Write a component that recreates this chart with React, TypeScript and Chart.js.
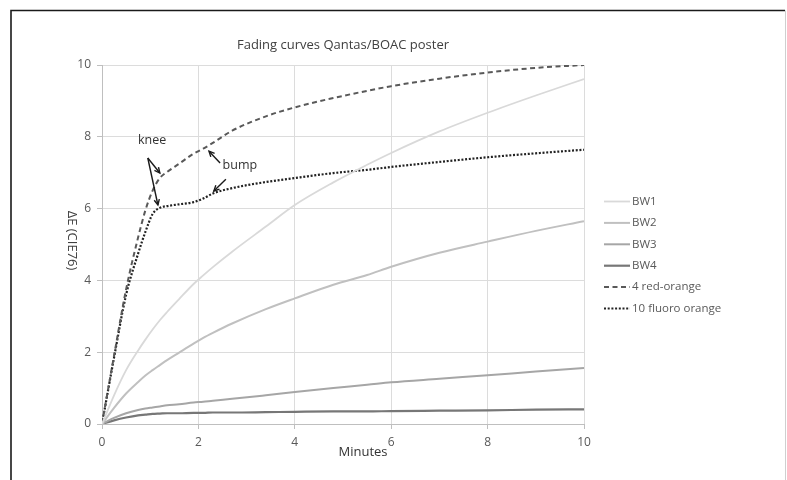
import React, { useEffect, useRef } from "react";
import { Chart, registerables } from "chart.js";

Chart.register(...registerables);

// ---- Data ----
const minutes = [0, 0.25, 0.5, 0.75, 0.9, 1.05, 1.2, 1.35, 1.6, 1.9, 2.1, 2.3, 2.7, 3.4, 4, 4.8, 5.5, 6, 7, 8, 9, 10];

const bw1 = [0, 0.8, 1.5, 2.05, 2.35, 2.63, 2.89, 3.12, 3.48, 3.9, 4.14, 4.37, 4.8, 5.5, 6.1, 6.73, 7.22, 7.55, 8.15, 8.67, 9.15, 9.61];
const bw2 = [0, 0.45, 0.85, 1.17, 1.35, 1.5, 1.64, 1.78, 1.99, 2.24, 2.4, 2.54, 2.8, 3.2, 3.5, 3.88, 4.15, 4.38, 4.77, 5.08, 5.38, 5.65];
const bw3 = [0, 0.17, 0.3, 0.39, 0.43, 0.46, 0.49, 0.52, 0.55, 0.6, 0.62, 0.65, 0.7, 0.8, 0.89, 1.0, 1.09, 1.16, 1.26, 1.36, 1.46, 1.56];
const bw4 = [0, 0.1, 0.18, 0.24, 0.26, 0.28, 0.29, 0.3, 0.3, 0.31, 0.31, 0.32, 0.32, 0.33, 0.34, 0.35, 0.35, 0.36, 0.37, 0.38, 0.4, 0.41];
const redOrange = [0, 1.9, 3.75, 5.2, 5.95, 6.5, 6.85, 7.02, 7.25, 7.53, 7.67, 7.83, 8.17, 8.57, 8.82, 9.08, 9.28, 9.41, 9.62, 9.79, 9.92, 10.0];
const fluoroOrange = [0, 1.85, 3.6, 4.75, 5.35, 5.85, 6.02, 6.07, 6.12, 6.18, 6.28, 6.42, 6.57, 6.74, 6.85, 6.99, 7.08, 7.16, 7.3, 7.43, 7.54, 7.64];

const seriesNames = ["BW1", "BW2", "BW3", "BW4", "4 red-orange", "10 fluoro orange"];

const axisMin = 0;
const axisMax = 10;
const tickStep = 2;

const chartTitle = "Fading curves Qantas/BOAC poster";
const xAxisTitle = "Minutes";
const yAxisTitle = "ΔE (CIE76)";

// annotation labels and arrows, in data coordinates
const annotationLabels = [
  { text: "knee", x: 1.04, y: 7.91 },
  { text: "bump", x: 2.86, y: 7.19 },
];
const annotationArrows = [
  [0.95, 7.41, 1.2, 6.99],
  [0.95, 7.41, 1.16, 6.1],
  [2.45, 7.27, 2.22, 7.6],
  [2.57, 6.82, 2.32, 6.49],
];

const FONT = "'Open Sans', 'Noto Sans', sans-serif";

const styles = [
  { color: "#d9d9d9", width: 1.8, dash: [] as number[] },
  { color: "#c0c0c0", width: 2, dash: [] as number[] },
  { color: "#a6a6a6", width: 2, dash: [] as number[] },
  { color: "#777777", width: 2.2, dash: [] as number[] },
  { color: "#595959", width: 2, dash: [5, 3.5] },
  { color: "#222222", width: 2.2, dash: [2, 1.7] },
];

const seriesValues = [bw1, bw2, bw3, bw4, redOrange, fluoroOrange];

const decorPlugin = {
  id: "decor",
  afterDraw(chart: any) {
    const ctx: CanvasRenderingContext2D = chart.ctx;
    const xs = chart.scales.x;
    const ys = chart.scales.y;
    const area = chart.chartArea;
    ctx.save();

    // frame
    ctx.strokeStyle = "#1a1a1a";
    ctx.lineWidth = 1.6;
    ctx.beginPath();
    ctx.moveTo(11, 480);
    ctx.lineTo(11, 10.5);
    ctx.lineTo(785, 10.5);
    ctx.stroke();
    ctx.strokeStyle = "#cfcfcf";
    ctx.lineWidth = 1;
    ctx.beginPath();
    ctx.moveTo(785.5, 10.5);
    ctx.lineTo(785.5, 480);
    ctx.stroke();

    // title
    ctx.fillStyle = "#404040";
    ctx.font = `13px ${FONT}`;
    ctx.textAlign = "center";
    ctx.textBaseline = "middle";
    ctx.fillText(chartTitle, (area.left + area.right) / 2, 45);

    // x axis title
    ctx.fillStyle = "#333333";
    ctx.font = `13px ${FONT}`;
    ctx.fillText(xAxisTitle, (area.left + area.right) / 2 + 20, 452);

    // y axis title (rotated clockwise)
    ctx.fillStyle = "#404040";
    ctx.save();
    ctx.translate(72, (area.top + area.bottom) / 2 - 4);
    ctx.rotate(Math.PI / 2);
    ctx.fillText(yAxisTitle, 0, 0);
    ctx.restore();

    // legend
    const lx0 = 604;
    const lx1 = 630;
    const ly0 = 201.5;
    const lstep = 21.4;
    chart.data.datasets.forEach((ds: any, i: number) => {
      const y = ly0 + i * lstep;
      ctx.strokeStyle = ds.borderColor;
      ctx.lineWidth = ds.borderWidth;
      ctx.setLineDash(ds.borderDash || []);
      ctx.beginPath();
      ctx.moveTo(lx0, y);
      ctx.lineTo(lx1, y);
      ctx.stroke();
      ctx.setLineDash([]);
      ctx.fillStyle = "#595959";
      ctx.font = `11.5px ${FONT}`;
      ctx.textAlign = "left";
      ctx.textBaseline = "middle";
      ctx.fillText(ds.label, lx1 + 2, y);
    });

    // annotations
    ctx.fillStyle = "#333333";
    ctx.font = `12.5px ${FONT}`;
    ctx.textAlign = "center";
    ctx.textBaseline = "middle";
    annotationLabels.forEach((a) => {
      ctx.fillText(a.text, xs.getPixelForValue(a.x), ys.getPixelForValue(a.y));
    });
    ctx.strokeStyle = "#1a1a1a";
    ctx.lineWidth = 1.4;
    annotationArrows.forEach(([x0, y0, x1, y1]) => {
      const px0 = xs.getPixelForValue(x0);
      const py0 = ys.getPixelForValue(y0);
      const px1 = xs.getPixelForValue(x1);
      const py1 = ys.getPixelForValue(y1);
      ctx.beginPath();
      ctx.moveTo(px0, py0);
      ctx.lineTo(px1, py1);
      ctx.stroke();
      const ang = Math.atan2(py1 - py0, px1 - px0);
      const hl = 6;
      const ha = 0.45;
      ctx.beginPath();
      ctx.moveTo(px1 - hl * Math.cos(ang - ha), py1 - hl * Math.sin(ang - ha));
      ctx.lineTo(px1, py1);
      ctx.lineTo(px1 - hl * Math.cos(ang + ha), py1 - hl * Math.sin(ang + ha));
      ctx.stroke();
    });

    ctx.restore();
  },
};

export default function App() {
  const canvasRef = useRef<HTMLCanvasElement | null>(null);

  useEffect(() => {
    if (!canvasRef.current) return;
    const datasets = seriesValues.map((vals, i) => ({
      label: seriesNames[i],
      data: minutes.map((m, j) => ({ x: m, y: vals[j] })),
      borderColor: styles[i].color,
      backgroundColor: styles[i].color,
      borderWidth: styles[i].width,
      borderDash: styles[i].dash,
      pointRadius: 0,
      fill: false,
      cubicInterpolationMode: "monotone" as const,
    }));

    const chart = new Chart(canvasRef.current, {
      type: "line",
      data: { datasets },
      options: {
        responsive: false,
        animation: false,
        devicePixelRatio: 1,
        layout: { padding: { left: 0, right: 203, top: 65, bottom: 0 } },
        plugins: {
          legend: { display: false },
          title: { display: false },
          tooltip: { enabled: false },
        },
        scales: {
          x: {
            type: "linear",
            min: axisMin,
            max: axisMax,
            ticks: {
              stepSize: tickStep,
              color: "#595959",
              font: { family: FONT, size: 12 },
              padding: 6,
              maxRotation: 0,
            },
            grid: { color: "#dcdcdc", tickLength: 5, tickColor: "#bfbfbf" },
            border: { color: "#bfbfbf" },
            afterFit: (scale: any) => {
              scale.height = 56;
            },
          },
          y: {
            type: "linear",
            min: axisMin,
            max: axisMax,
            ticks: {
              stepSize: tickStep,
              color: "#595959",
              font: { family: FONT, size: 12 },
              padding: 6,
            },
            grid: { color: "#dcdcdc", tickLength: 5, tickColor: "#bfbfbf" },
            border: { color: "#bfbfbf" },
            afterFit: (scale: any) => {
              scale.width = 102;
            },
          },
        },
      },
      plugins: [decorPlugin],
    });

    return () => chart.destroy();
  }, []);

  return (
    <div style={{ position: "absolute", left: 0, top: 0, width: 787, height: 480, background: "#fff" }}>
      <canvas ref={canvasRef} width={787} height={480} style={{ display: "block" }} />
    </div>
  );
}
